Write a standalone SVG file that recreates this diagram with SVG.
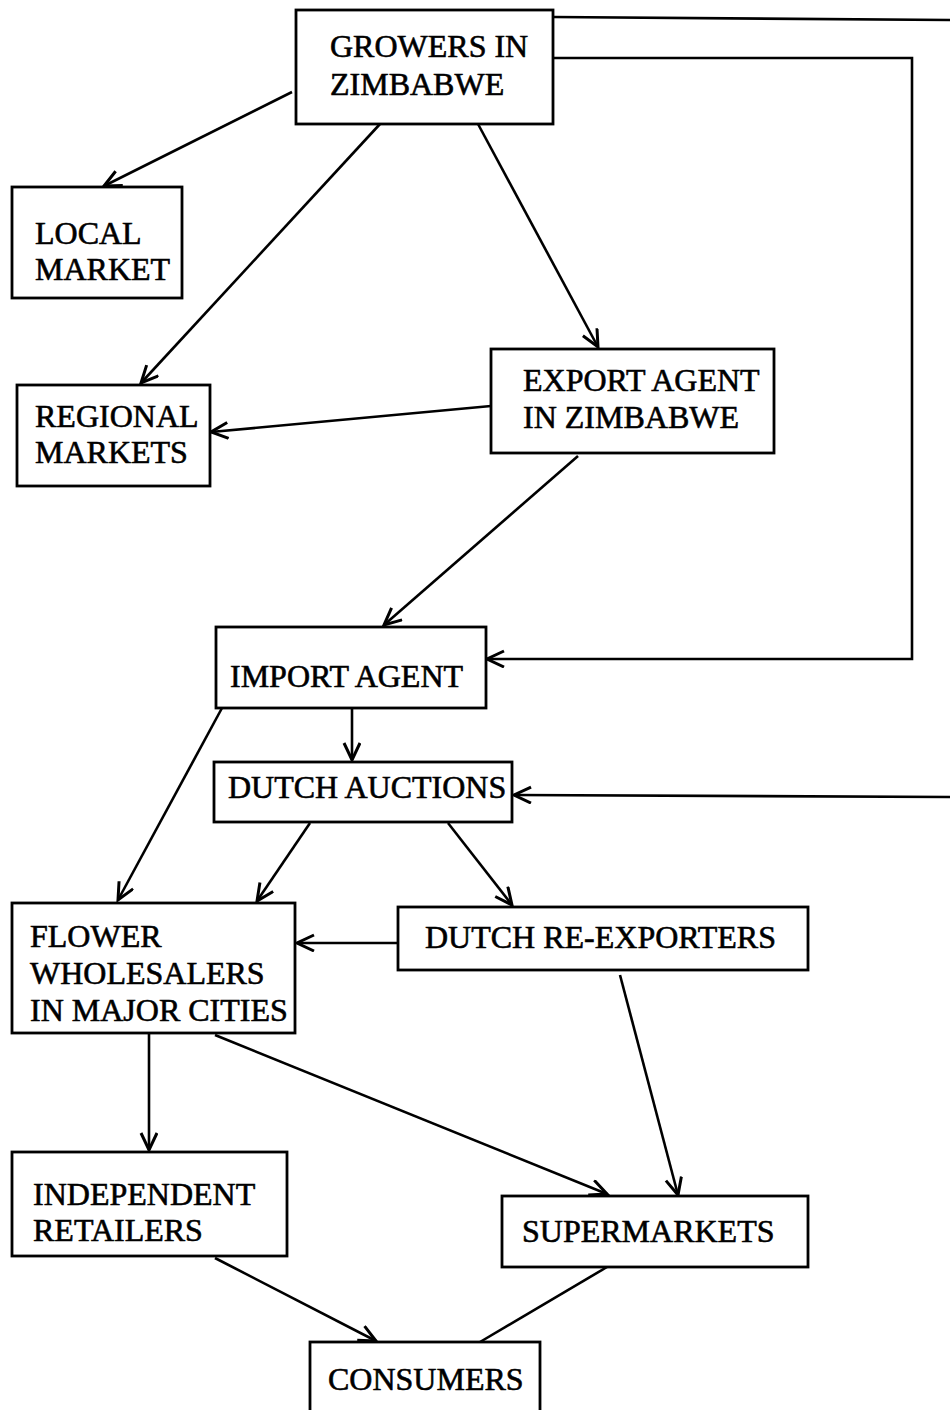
<svg xmlns="http://www.w3.org/2000/svg" width="950" height="1410" viewBox="0 0 950 1410">
<style>
.box{fill:#fff;stroke:#000;stroke-width:2.8}
.t{font-family:"Liberation Serif","Times New Roman",serif;font-size:32px;fill:#000;stroke:#000;stroke-width:0.6}
.c{fill:none;stroke:#000;stroke-width:2.6}
.a{marker-end:url(#arr)}
</style>
<defs>
<marker id="arr" markerUnits="userSpaceOnUse" markerWidth="22" markerHeight="20" refX="18" refY="9" orient="auto">
<path d="M1,1 L18,9 L1,17" fill="none" stroke="#000" stroke-width="3"/>
</marker>
</defs>
<rect width="950" height="1410" fill="#fff"/>
<g id="connectors">
<path class="c" d="M553,17 L950,20"/>
<path class="c a" d="M553,58 L912,58 L912,659 L487,659"/>
<path class="c a" d="M950,797 L514,795"/>
<path class="c a" d="M292,92 L104,186"/>
<path class="c a" d="M380,124 L141,383"/>
<path class="c a" d="M478,124 L598,347"/>
<path class="c a" d="M491,406 L211,432"/>
<path class="c a" d="M578,456 L384,625"/>
<path class="c a" d="M352,708 L352,760"/>
<path class="c a" d="M222,708 L118,900"/>
<path class="c a" d="M310,823 L257,901"/>
<path class="c a" d="M448,823 L512,905"/>
<path class="c a" d="M398,943 L297,943"/>
<path class="c a" d="M149,1034 L149,1150"/>
<path class="c a" d="M215,1035 L607,1194"/>
<path class="c a" d="M620,975 L678,1195"/>
<path class="c a" d="M215,1258 L376,1341"/>
<path class="c" d="M607,1267 L480,1342"/>
</g>
<g id="growers"><rect class="box" x="296" y="10" width="257" height="114"/><text class="t" x="330" y="57">GROWERS IN</text><text class="t" x="330" y="95">ZIMBABWE</text></g>
<g id="local"><rect class="box" x="12" y="187" width="170" height="111"/><text class="t" x="35" y="244">LOCAL</text><text class="t" x="35" y="280">MARKET</text></g>
<g id="regional"><rect class="box" x="17" y="385" width="193" height="101"/><text class="t" x="35" y="427">REGIONAL</text><text class="t" x="35" y="463">MARKETS</text></g>
<g id="export"><rect class="box" x="491" y="349" width="283" height="104"/><text class="t" x="523" y="391">EXPORT AGENT</text><text class="t" x="523" y="428">IN ZIMBABWE</text></g>
<g id="import"><rect class="box" x="216" y="627" width="270" height="81"/><text class="t" x="230" y="687">IMPORT AGENT</text></g>
<g id="auctions"><rect class="box" x="214" y="762" width="298" height="60"/><text class="t" x="228" y="798">DUTCH AUCTIONS</text></g>
<g id="wholesalers"><rect class="box" x="12" y="903" width="283" height="130"/><text class="t" x="30" y="947">FLOWER</text><text class="t" x="30" y="984">WHOLESALERS</text><text class="t" x="30" y="1021">IN MAJOR CITIES</text></g>
<g id="reexporters"><rect class="box" x="398" y="907" width="410" height="63"/><text class="t" x="425" y="948">DUTCH RE-EXPORTERS</text></g>
<g id="independent"><rect class="box" x="12" y="1152" width="275" height="104"/><text class="t" x="33" y="1205">INDEPENDENT</text><text class="t" x="33" y="1241">RETAILERS</text></g>
<g id="supermarkets"><rect class="box" x="502" y="1196" width="306" height="71"/><text class="t" x="522" y="1242">SUPERMARKETS</text></g>
<g id="consumers"><rect class="box" x="310" y="1342" width="230" height="80"/><text class="t" x="328" y="1390">CONSUMERS</text></g>
</svg>
